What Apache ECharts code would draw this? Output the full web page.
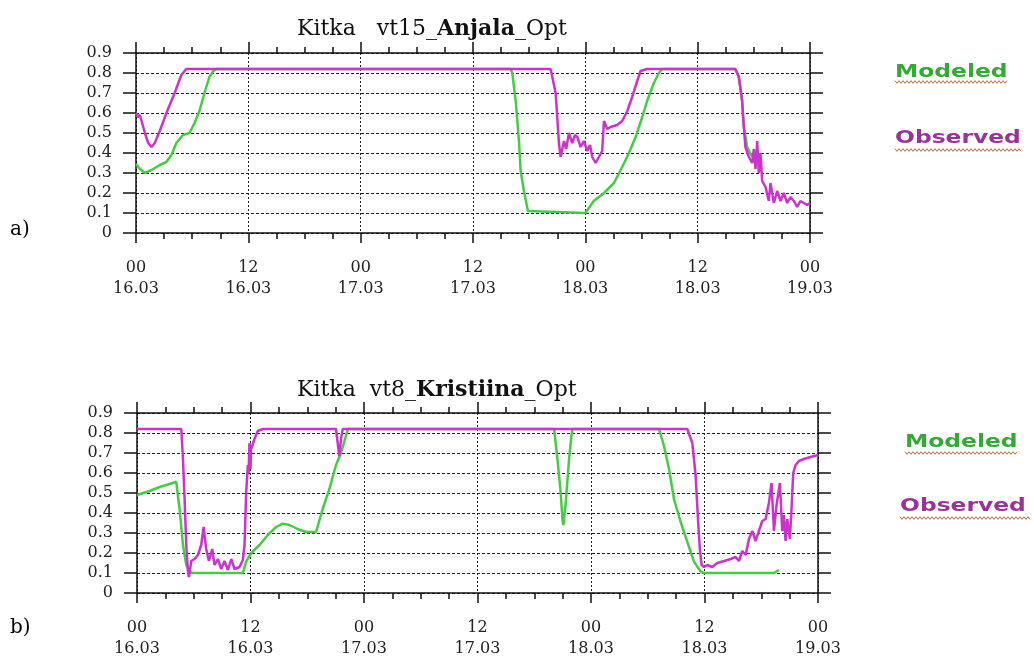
<!DOCTYPE html>
<html>
<head>
<meta charset="utf-8">
<script src="https://cdn.jsdelivr.net/npm/echarts@6/dist/echarts.min.js"></script>
<style>
  html, body { margin: 0; padding: 0; background: #fff; }
  #chart { width: 1034px; height: 659px; }
</style>
</head>
<body>
<div id="chart"></div>
<script>
'use strict'

// x in hours from 00 16.03, y is the friction value
const xTickLabels = ['00\n16.03', '12\n16.03', '00\n17.03', '12\n17.03', '00\n18.03', '12\n18.03', '00\n19.03'];
const seriesNames = ['Modeled', 'Observed'];

const anjalaModeled = [
  [0, 0.345], [0.42, 0.32], [0.95, 0.3], [1.66, 0.315], [2.54, 0.34], [3.25, 0.355], [3.78, 0.39],
  [4.31, 0.45], [5.01, 0.49], [5.72, 0.5], [6.25, 0.55], [6.78, 0.61], [7.31, 0.7], [7.84, 0.78],
  [8.26, 0.81], [8.6, 0.82], [40.0, 0.82], [40.2, 0.8], [40.56, 0.66], [40.91, 0.46], [41.09, 0.31],
  [41.44, 0.21], [41.87, 0.11], [48.0, 0.1], [48.9, 0.16], [50.0, 0.2], [51.06, 0.25], [51.94, 0.33],
  [52.66, 0.4], [53.37, 0.48], [54.08, 0.58], [54.6, 0.66], [55.32, 0.75], [55.86, 0.8], [56.2, 0.82],
  [64.0, 0.82], [64.4, 0.78], [64.75, 0.66], [64.93, 0.53], [65.29, 0.43], [65.82, 0.38], [66.18, 0.4]
];

const anjalaObserved = [
  [0, 0.6], [0.2, 0.58], [0.42, 0.59], [0.95, 0.5], [1.3, 0.45], [1.66, 0.43], [2.0, 0.45], [2.54, 0.51],
  [3.25, 0.6], [4.13, 0.7], [4.84, 0.79], [5.37, 0.82], [44.29, 0.82], [44.83, 0.7], [45.18, 0.45],
  [45.36, 0.38], [45.72, 0.46], [45.95, 0.42], [46.25, 0.5], [46.6, 0.45], [46.9, 0.49], [47.14, 0.48],
  [47.5, 0.43], [47.85, 0.46], [48.2, 0.41], [48.5, 0.44], [48.74, 0.38], [49.1, 0.35], [49.45, 0.38],
  [49.8, 0.41], [49.99, 0.56], [50.34, 0.52], [50.7, 0.53], [51.4, 0.54], [51.94, 0.56], [52.48, 0.61],
  [53.0, 0.68], [53.54, 0.76], [53.9, 0.81], [54.6, 0.82], [64.04, 0.82], [64.4, 0.78], [64.75, 0.66],
  [64.93, 0.53], [65.1, 0.43], [65.47, 0.38], [65.82, 0.35], [66.0, 0.42], [66.18, 0.32], [66.36, 0.46],
  [66.53, 0.3], [66.71, 0.4], [66.89, 0.26], [67.25, 0.23], [67.6, 0.16], [67.78, 0.25], [68.14, 0.15],
  [68.49, 0.21], [68.85, 0.16], [69.2, 0.2], [69.56, 0.15], [69.91, 0.18], [70.27, 0.16], [70.63, 0.13],
  [70.98, 0.16], [71.34, 0.15], [71.69, 0.14], [72, 0.15]
];

const kristiinaModeled = [
  [0, 0.49], [1.34, 0.51], [2.39, 0.53], [3.45, 0.545], [4.15, 0.556], [4.5, 0.42], [4.86, 0.24],
  [5.21, 0.14], [5.74, 0.1], [6.62, 0.1], [11.19, 0.1], [11.54, 0.157], [12.07, 0.2], [12.95, 0.24],
  [13.83, 0.29], [14.71, 0.33], [15.41, 0.347], [16.12, 0.34], [16.99, 0.32], [17.87, 0.305],
  [18.93, 0.305], [19.63, 0.42], [20.34, 0.52], [21.04, 0.64], [21.57, 0.7], [22.3, 0.82], [44.1, 0.82],
  [44.45, 0.67], [44.8, 0.5], [44.98, 0.37], [45.08, 0.34], [45.33, 0.45], [45.68, 0.67], [45.93, 0.785],
  [46.04, 0.82], [55.19, 0.82], [55.72, 0.735], [56.25, 0.62], [56.77, 0.47], [57.48, 0.355],
  [58.18, 0.256], [58.89, 0.157], [59.59, 0.107], [59.94, 0.1], [67.34, 0.1], [67.87, 0.115]
];

const kristiinaObserved = [
  [0, 0.82], [4.68, 0.82], [4.86, 0.67], [5.03, 0.47], [5.21, 0.24], [5.38, 0.11], [5.49, 0.08],
  [5.74, 0.16], [6.09, 0.17], [6.44, 0.19], [6.79, 0.24], [7.04, 0.33], [7.32, 0.22], [7.6, 0.16],
  [7.95, 0.22], [8.2, 0.14], [8.55, 0.17], [8.9, 0.12], [9.25, 0.16], [9.61, 0.115], [9.96, 0.17],
  [10.31, 0.12], [10.84, 0.13], [11.19, 0.165], [11.37, 0.24], [11.54, 0.5], [11.72, 0.64], [11.8, 0.6],
  [11.89, 0.75], [12.0, 0.62], [12.07, 0.72], [12.24, 0.73], [12.42, 0.77], [12.77, 0.81], [13.3, 0.82],
  [21.04, 0.82], [21.22, 0.75], [21.39, 0.685], [21.57, 0.77], [21.75, 0.82], [58.18, 0.82],
  [58.71, 0.75], [59.06, 0.59], [59.31, 0.37], [59.52, 0.21], [59.7, 0.14], [59.94, 0.13], [60.3, 0.14],
  [60.82, 0.13], [61.35, 0.15], [62.06, 0.16], [62.76, 0.17], [63.29, 0.18], [63.64, 0.16], [63.99, 0.21],
  [64.35, 0.19], [64.7, 0.27], [65.05, 0.31], [65.4, 0.26], [65.75, 0.31], [66.11, 0.36], [66.46, 0.37],
  [66.81, 0.45], [67.09, 0.55], [67.34, 0.31], [67.62, 0.44], [67.97, 0.55], [68.22, 0.31], [68.39, 0.39],
  [68.57, 0.26], [68.75, 0.37], [69.03, 0.27], [69.17, 0.39], [69.38, 0.6], [69.63, 0.64], [69.98, 0.66],
  [70.51, 0.67], [71.21, 0.68], [72, 0.69]
];

const serif = '"DejaVu Serif", serif';
const green = '#44cc44';
const magenta = '#cc33cc';
const black = { color: '#111', width: 1.5 };

function xAxisFor(gi, pos) {
  let bottom = pos === 'bottom';
  return {
    gridIndex: gi, type: 'value', position: pos, min: 0, max: 72, interval: 12,
    axisLine: { show: true, onZero: false, lineStyle: black },
    axisTick: { show: true, length: bottom ? 10 : 11, lineStyle: black },
    minorTick: { show: true, splitNumber: 4, length: 6, lineStyle: black },
    splitLine: { show: bottom, lineStyle: { color: '#222', type: [2, 2] } },
    axisLabel: {
      show: bottom, margin: 24, color: '#222', fontFamily: serif, fontSize: 16, lineHeight: 21,
      formatter: (v) => xTickLabels[Math.round(v / 12)]
    }
  };
}

function yAxisFor(gi, pos) {
  let left = pos === 'left';
  return {
    gridIndex: gi, type: 'value', position: pos, min: 0, max: 0.9, interval: 0.1,
    axisLine: { show: true, onZero: false, lineStyle: black },
    axisTick: { show: true, length: 13, lineStyle: black },
    splitLine: { show: left, lineStyle: { color: '#222', type: [3, 2] } },
    axisLabel: {
      show: left, margin: 24, color: '#222', fontFamily: serif, fontSize: 16,
      formatter: (v) => v === 0 ? '0' : v.toFixed(1)
    }
  };
}

function line(name, data, ax, color, z) {
  return {
    type: 'line', name: name, data: data, xAxisIndex: ax, yAxisIndex: ax,
    showSymbol: false, z: z, animation: false,
    lineStyle: { color: color, width: 2.5 }, itemStyle: { color: color }
  };
}

// spell-check style wavy underline under the legend words (decoration only)
function wave(x0, x1, y) {
  let pts = [];
  for (let x = x0, i = 0; x <= x1; x += 2, i++) pts.push([x, y + (i % 2 ? 1.3 : -1.3)]);
  return { type: 'polyline', shape: { points: pts }, style: { stroke: '#c8643c', lineWidth: 1, fill: null } };
}

function word(text, x, y, color) {
  return {
    type: 'text', x: x, y: y, scaleX: 1.3,
    style: { text: text, fill: color, font: 'bold 18px "DejaVu Sans"', verticalAlign: 'middle', align: 'left' }
  };
}

function titleRich(pre, bold) {
  return '{n|' + pre + '}{b|' + bold + '}{n|_Opt}';
}

const titleStyle = {
  fontWeight: 'normal',
  rich: {
    n: { fontFamily: serif, fontSize: 22, fontWeight: 'normal', color: '#111' },
    b: { fontFamily: serif, fontSize: 22, fontWeight: 'bold', color: '#111' }
  }
};

let option = {
  backgroundColor: '#fff',
  animation: false,
  title: [
    { text: titleRich('Kitka   vt15_', 'Anjala'), left: 297, top: 18, padding: 0, textStyle: titleStyle },
    { text: titleRich('Kitka  vt8_', 'Kristiina'), left: 297, top: 379, padding: 0, textStyle: titleStyle }
  ],
  grid: [
    { left: 136, top: 53, width: 674, height: 180 },
    { left: 137, top: 413, width: 681, height: 182 }
  ],
  xAxis: [xAxisFor(0, 'bottom'), xAxisFor(0, 'top'), xAxisFor(1, 'bottom'), xAxisFor(1, 'top')],
  yAxis: [yAxisFor(0, 'left'), yAxisFor(0, 'right'), yAxisFor(1, 'left'), yAxisFor(1, 'right')],
  series: [
    line(seriesNames[0], anjalaModeled, 0, green, 2),
    line(seriesNames[1], anjalaObserved, 0, magenta, 3),
    line(seriesNames[0], kristiinaModeled, 2, green, 2),
    line(seriesNames[1], kristiinaObserved, 2, magenta, 3)
  ],
  graphic: [
    word(seriesNames[0], 895, 72, '#33aa33'),
    wave(895, 1007, 82),
    word(seriesNames[1], 895, 138, '#993399'),
    wave(895, 1022, 150),
    word(seriesNames[0], 905, 442, '#33aa33'),
    wave(905, 1017, 453),
    word(seriesNames[1], 900, 506, '#993399'),
    wave(900, 1031, 518),
    { type: 'text', x: 10, y: 230, style: { text: 'a)', fill: '#000', font: '20px ' + serif, verticalAlign: 'middle' } },
    { type: 'text', x: 10, y: 628, style: { text: 'b)', fill: '#000', font: '20px ' + serif, verticalAlign: 'middle' } }
  ]
};

let myChart = echarts.init(document.getElementById('chart'));
myChart.setOption(option);
</script>
</body>
</html>
